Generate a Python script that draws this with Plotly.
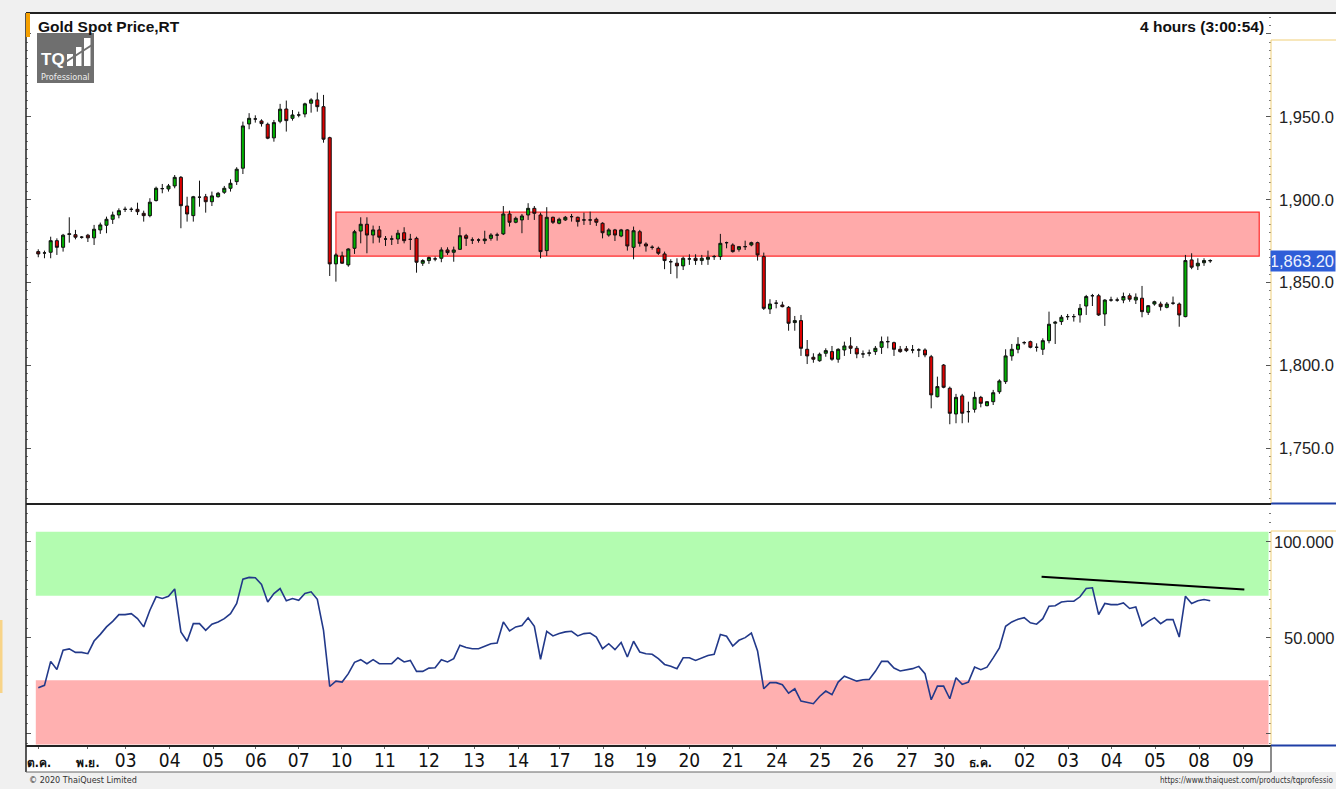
import plotly.graph_objects as go

W, H = 1336, 789

# ---------------- data ----------------
opens = [1868.6,1867.8,1868.2,1875.2,1871.2,1879.0,1878.8,1877.3,1878.5,1876.9,
1881.7,1884.5,1888.1,1890.7,1894.1,1894.1,1894.1,1891.7,1890.3,1899.4,
1906.6,1906.4,1908.2,1913.4,1896.1,1890.3,1901.4,1901.7,1898.7,1901.7,
1904.4,1906.8,1910.8,1918.9,1945.6,1948.6,1947.4,1945.4,1937.2,1947.2,
1954.6,1949.0,1951.0,1951.6,1958.1,1960.1,1956.0,1937.3,1861.2,1866.0,
1860.6,1870.6,
1881.0,1885.1,1878.6,1881.7,1876.2,1876.2,1876.2,1880.0,1876.0,1876.6,
1861.6,1863.2,1864.2,1864.6,1869.6,1868.2,1870.0,1878.2,1875.6,1875.6,
1875.2,1876.6,1878.6,1879.3,1891.3,1886.3,1887.7,1890.7,1894.7,1890.7,
1869.2,1889.3,1885.7,1887.7,1889.7,1889.3,1887.7,1887.7,1888.1,1885.7,
1878.6,1881.7,1878.0,1881.7,1871.2,1880.6,1873.2,1871.2,1870.6,1867.2,
1862.5,1861.6,1860.0,1864.2,1864.6,1863.2,1864.0,1865.6,1865.6,1874.0,
1872.6,1870.0,1871.6,1872.6,1874.0,1865.6,
1834.0,1837.5,1836.4,1835.0,1825.8,1827.0,1809.7,1804.9,1802.8,1807.3,
1808.3,1803.7,1809.3,1811.7,1810.3,1806.9,1807.3,1808.3,1810.9,1814.3,
1813.7,1809.7,1810.0,1809.3,1809.3,1809.3,1805.2,1781.1,1800.2,1786.2,
1770.7,1781.6,1772.1,1773.5,1780.7,1775.7,1778.1,1784.1,1790.2,1805.7,
1809.7,1813.7,1814.3,1810.9,1809.7,1814.9,1825.4,1826.4,1829.4,1829.4,
1830.4,1835.8,1842.0,1842.0,1831.0,1839.4,1839.4,1839.4,1842.0,1839.4,
1840.5,1832.0,1837.0,1837.0,1835.0,1837.5,1837.0,1829.4,1863.6,1860.0,
1861.9,1863.0]

highs = [1870.0,1869.2,1877.6,1876.6,1879.3,1889.3,1881.7,1878.0,1879.3,1884.7,
1886.1,1889.7,1892.7,1894.7,1895.7,1895.3,1898.1,1893.3,1900.8,1907.8,
1909.4,1909.4,1914.8,1914.2,1901.7,1902.2,1911.4,1903.4,1904.8,1904.6,
1908.2,1912.2,1919.5,1947.0,1952.1,1950.8,1948.4,1946.4,1948.0,1957.7,
1959.7,1954.0,1953.0,1958.4,1961.1,1964.5,1963.1,1937.9,1867.6,1868.6,
1870.6,1881.7,
1889.3,1889.3,1884.3,1884.1,1878.0,1878.3,1881.7,1883.3,1879.3,1877.6,
1864.0,1865.6,1865.6,1871.2,1871.2,1871.6,1883.3,1879.3,1877.2,1876.6,
1881.2,1879.7,1880.0,1896.1,1893.3,1889.7,1891.3,1897.8,1896.1,1892.1,
1895.4,1889.7,1889.1,1890.1,1891.3,1889.7,1892.1,1892.7,1889.1,1886.3,
1882.7,1882.3,1882.3,1882.1,1883.7,1881.7,1874.2,1872.4,1871.6,1868.6,
1864.0,1864.6,1865.6,1867.0,1867.0,1866.6,1869.2,1866.6,1879.3,1874.6,
1873.6,1871.6,1875.2,1874.6,1874.6,1868.0,
1839.9,1839.4,1838.4,1835.8,1829.8,1830.4,1815.3,1807.3,1807.7,1810.3,
1811.7,1810.3,1814.3,1817.0,1811.7,1809.0,1809.5,1811.7,1817.4,1817.4,
1814.3,1811.7,1811.7,1812.3,1810.3,1810.3,1806.3,1793.2,1800.8,1787.2,
1782.8,1782.8,1778.1,1784.1,1781.6,1778.5,1785.2,1791.6,1809.7,1812.9,
1817.0,1814.6,1814.9,1813.3,1816.3,1832.4,1826.8,1830.4,1831.0,1831.0,
1837.0,1842.5,1843.1,1843.1,1839.9,1841.4,1840.9,1843.9,1843.4,1843.4,
1847.9,1836.4,1839.0,1838.4,1838.2,1841.5,1837.9,1866.6,1867.6,1864.6,
1864.6,1864.0]

lows = [1865.2,1864.6,1864.6,1866.6,1868.6,1874.0,1876.0,1876.4,1874.4,1872.6,
1879.3,1879.7,1885.3,1888.7,1892.5,1892.5,1890.7,1886.7,1889.3,1898.8,
1903.8,1904.8,1906.8,1882.7,1886.7,1886.7,1895.7,1892.1,1896.1,1901.2,
1903.4,1904.8,1908.8,1915.4,1942.4,1946.4,1944.0,1936.4,1934.9,1946.0,
1941.0,1947.6,1949.6,1949.6,1952.4,1953.0,1934.3,1853.9,1850.5,1861.2,
1859.5,1867.2,
1873.6,1867.6,1873.6,1874.0,1872.0,1872.6,1873.2,1873.6,1869.6,1855.9,
1860.0,1861.2,1862.8,1862.2,1866.6,1862.5,1869.6,1872.0,1873.2,1874.0,
1873.2,1875.2,1875.2,1878.6,1883.7,1885.7,1879.7,1887.7,1887.7,1864.6,
1866.0,1885.3,1885.1,1887.1,1886.7,1883.7,1884.7,1884.7,1884.1,1876.6,
1877.6,1875.0,1877.3,1869.2,1864.0,1871.6,1868.6,1869.8,1866.6,1858.0,
1855.1,1852.5,1857.5,1860.6,1860.6,1860.6,1860.6,1863.6,1863.6,1870.6,
1868.0,1868.6,1869.6,1871.8,1863.2,1833.4,
1831.0,1834.4,1835.0,1820.9,1820.9,1805.7,1800.8,1801.6,1802.2,1805.2,
1802.8,1801.6,1805.7,1806.9,1804.3,1804.5,1805.5,1806.3,1806.9,1810.3,
1805.7,1807.6,1808.0,1807.3,1805.0,1804.9,1774.1,1780.7,1786.2,1764.5,
1765.1,1765.1,1765.5,1771.5,1774.7,1775.3,1776.1,1782.8,1788.8,1802.8,
1807.3,1812.5,1810.3,1808.3,1806.3,1813.3,1812.9,1824.4,1827.4,1826.4,
1825.8,1830.4,1835.8,1829.8,1823.8,1838.4,1838.4,1837.5,1838.4,1837.0,
1829.0,1830.4,1836.0,1833.0,1834.4,1836.5,1823.3,1829.0,1858.0,1857.5,
1860.0,1861.8]

closes = [1867.2,1867.8,1875.2,1871.2,1878.5,1879.3,1877.3,1877.3,1876.9,1882.1,
1884.7,1888.1,1890.7,1893.3,1894.1,1894.1,1892.7,1890.3,1898.4,1906.8,
1906.6,1908.2,1913.4,1896.3,1891.3,1901.7,1901.4,1898.7,1902.2,1903.8,
1906.8,1909.8,1918.3,1944.4,1949.0,1948.6,1945.8,1937.0,1946.4,1954.5,
1947.6,1951.0,1951.0,1957.7,1960.1,1956.0,1936.4,1861.2,1866.6,1861.6,
1870.2,1880.6,
1885.1,1878.6,1881.7,1877.3,1876.2,1876.2,1879.7,1875.2,1876.0,1862.2,
1863.2,1865.0,1864.2,1869.6,1868.0,1869.6,1878.2,1876.6,1875.6,1875.6,
1876.2,1878.6,1878.6,1891.3,1886.3,1888.7,1890.1,1894.7,1891.7,1868.6,
1889.3,1886.3,1888.1,1889.3,1889.7,1886.7,1887.7,1887.7,1886.3,1880.0,
1881.7,1878.6,1881.7,1872.0,1881.2,1873.6,1872.0,1871.2,1867.6,1863.2,
1862.5,1860.0,1864.6,1864.2,1863.2,1864.6,1865.2,1865.6,1873.6,1874.0,
1868.6,1871.6,1871.6,1874.0,1866.6,1834.4,
1837.0,1837.5,1835.4,1825.4,1827.0,1810.3,1805.7,1803.7,1806.7,1808.9,
1803.7,1809.7,1811.7,1810.3,1806.9,1806.9,1807.5,1810.3,1814.3,1814.3,
1809.7,1808.3,1808.9,1809.3,1809.3,1806.3,1782.2,1787.2,1786.8,1771.1,
1780.7,1771.1,1772.1,1780.7,1777.1,1778.1,1783.5,1790.6,1805.7,1809.7,
1812.7,1813.7,1810.9,1810.9,1814.9,1824.8,1826.0,1829.0,1829.4,1829.4,
1834.4,1841.5,1842.0,1830.4,1839.4,1839.4,1839.4,1841.5,1839.9,1841.1,
1832.4,1836.0,1838.4,1835.4,1837.0,1837.5,1830.4,1863.2,1859.2,1861.6,
1863.2,1863.2]

rsi = [23.8,25.1,37.6,33.4,43.4,44.1,42.3,42.3,41.6,48.2,
51.7,55.6,58.5,62.0,62.0,62.5,59.9,55.6,64.3,71.3,
70.4,71.6,75.4,53.0,48.1,57.3,57.3,53.8,57.0,58.2,
59.9,62.5,67.8,80.5,81.4,81.2,77.7,68.6,73.0,75.6,
69.2,70.4,69.5,73.0,73.9,70.0,53.8,24.5,27.3,26.8,
31.2,37.1,38.5,36.4,38.5,36.4,36.4,36.4,39.5,37.3,
38.1,32.4,32.4,34.1,34.3,38.5,37.3,39.0,46.0,44.8,
44.2,44.2,45.5,46.8,47.2,58.2,53.5,55.6,56.3,60.3,
55.9,38.7,53.3,50.9,52.1,53.0,53.3,50.9,52.1,52.4,
50.3,44.2,46.8,43.7,47.5,39.9,48.1,42.5,41.6,41.3,
39.0,36.0,35.0,33.8,39.5,39.5,38.1,39.5,40.7,41.3,
51.6,50.7,45.6,48.6,50.0,52.4,43.0,23.3,26.5,26.5,
25.4,21.0,23.3,16.9,16.0,15.5,19.3,22.1,20.2,26.8,
29.9,28.5,27.3,28.0,28.2,32.4,37.6,37.6,34.1,32.6,
33.3,33.8,35.0,31.2,17.6,24.7,24.7,18.1,29.1,25.6,
26.8,34.6,33.3,34.6,39.4,44.6,55.9,58.2,59.6,60.4,
57.7,57.0,59.9,66.4,66.6,68.6,69.0,69.0,71.3,75.6,
76.0,62.0,67.8,67.2,67.2,68.1,65.2,66.0,56.1,58.5,
60.4,57.3,59.4,59.4,50.3,71.6,67.8,69.2,69.9,69.2]

bar_index = list(range(len(closes)))

tick_pos = [0.1, 8.0, 14.1, 21.2, 28.2, 35.1, 42.0, 48.9, 55.9, 63.0, 70.3, 77.4,
            84.1, 91.2, 98.0, 105.0, 112.0, 119.1, 126.1, 133.0, 140.1, 146.1,
            151.9, 159.1, 166.1, 173.1, 180.1, 187.2, 194.3]
tick_labels = ["ต.ค.", "พ.ย.", "03", "04", "05", "06", "07", "10", "11", "12", "13", "14",
               "17", "18", "19", "20", "21", "24", "25", "26", "27", "30",
               "ธ.ค.", "02", "03", "04", "05", "08", "09"]
month_labels = {"ต.ค.", "พ.ย.", "ธ.ค."}

price_ticks = [1750, 1800, 1850, 1900, 1950]
rsi_ticks = [50, 100]

zone_x = [48.0, 196.9]
zone_y = [1865.9, 1892.4]
rsi_upper_band = [71.8, 105.2]
rsi_lower_band = [-5.8, 27.7]
trend_x = [161.8, 194.5]
trend_y = [81.7, 75.1]

title_left = "Gold Spot Price,RT"
title_right = "4 hours (3:00:54)"

# ---------------- helpers ----------------
def pxx(x):
    return x / W

def pxy(y):
    return 1 - y / H

NARROW = "Liberation Sans Narrow, Arial Narrow, DejaVu Sans Condensed, Liberation Sans, Arial, sans-serif"
SANS = "Liberation Sans, Arial, sans-serif"

fig = go.Figure()

fig.add_trace(go.Candlestick(
    x=bar_index, open=opens, high=highs, low=lows, close=closes,
    increasing=dict(fillcolor="#00b000", line=dict(color="#111111", width=1)),
    decreasing=dict(fillcolor="#dd0000", line=dict(color="#111111", width=1)),
    whiskerwidth=0, showlegend=False, hoverinfo="skip",
    xaxis="x", yaxis="y"))

fig.add_trace(go.Scatter(
    x=bar_index, y=rsi, mode="lines",
    line=dict(color="#22398a", width=1.6),
    showlegend=False, hoverinfo="skip", xaxis="x2", yaxis="y2"))

fig.add_trace(go.Scatter(
    x=trend_x, y=trend_y, mode="lines",
    line=dict(color="#000000", width=2),
    showlegend=False, hoverinfo="skip", xaxis="x2", yaxis="y2"))

xdom = [pxx(26), pxx(1271)]
xrange_ = [-1.98, 198.8]

ticktext = []
for t in tick_labels:
    if t in month_labels:
        ticktext.append("<span style='font-size:12px'><b>%s</b></span>" % t)
    else:
        ticktext.append(t)

fig.update_layout(
    width=W, height=H, autosize=False,
    margin=dict(l=0, r=0, t=0, b=0),
    paper_bgcolor="#f0f0f0", plot_bgcolor="white",
    hovermode=False, showlegend=False,
    font=dict(family=SANS, color="#111111"),
    xaxis=dict(domain=xdom, range=xrange_, anchor="y", showticklabels=False,
               ticks="", showgrid=False, zeroline=False, showline=False,
               rangeslider=dict(visible=False)),
    yaxis=dict(domain=[pxy(503), pxy(14)], range=[1717.0, 2011.9], anchor="x",
               side="right", showticklabels=False, showgrid=False, zeroline=False,
               ticks="inside", ticklen=5, tickcolor="#555555", tickmode="linear",
               tick0=1750, dtick=50, mirror="ticks",
               minor=dict(ticks="inside", ticklen=2, tickcolor="#777777", dtick=5, tick0=1750)),
    xaxis2=dict(domain=xdom, range=xrange_, anchor="y2", matches="x",
                tickmode="array", tickvals=tick_pos, ticktext=ticktext,
                ticks="outside", ticklen=3, tickcolor="#666666",
                ticklabelstandoff=-5,
                tickfont=dict(family=NARROW, size=19, color="#111111"),
                showgrid=False, zeroline=False, showline=False),
    yaxis2=dict(domain=[pxy(745), pxy(507)], range=[-6.03, 118.15], anchor="x2",
                side="right", showticklabels=False, showgrid=False, zeroline=False,
                ticks="inside", ticklen=5, tickcolor="#555555", tickmode="linear",
                tick0=0, dtick=50, mirror="ticks",
                minor=dict(ticks="inside", ticklen=2, tickcolor="#777777", dtick=5, tick0=0)),
)

shapes = []

def prect(x0, y0, x1, y1, fill, layer="below", line=None):
    d = dict(type="rect", xref="paper", yref="paper",
             x0=pxx(x0), x1=pxx(x1), y0=pxy(y1), y1=pxy(y0),
             fillcolor=fill, layer=layer, line=dict(width=0))
    if line:
        d["line"] = line
    shapes.append(d)

def pline(x0, y0, x1, y1, color, width=1, layer="above"):
    shapes.append(dict(type="line", xref="paper", yref="paper",
                       x0=pxx(x0), x1=pxx(x1), y0=pxy(y0), y1=pxy(y1),
                       line=dict(color=color, width=width), layer=layer))

# white chart canvas
prect(26, 13, W, 772, "white")
# far-left sliver
prect(0, 620, 2.5, 693, "#f8d488", layer="above")

# data-referenced zones
shapes.append(dict(type="rect", xref="x", yref="y", x0=zone_x[0], x1=zone_x[1],
                   y0=zone_y[0], y1=zone_y[1], fillcolor="#ffaaaa",
                   line=dict(color="#ff2a2a", width=1.2), layer="below"))
shapes.append(dict(type="rect", xref="x2", yref="y2", x0=-0.4, x1=198.4,
                   y0=rsi_upper_band[0], y1=rsi_upper_band[1], fillcolor="#b3fcb0",
                   line=dict(width=0), layer="below"))
shapes.append(dict(type="rect", xref="x2", yref="y2", x0=-0.4, x1=198.4,
                   y0=rsi_lower_band[0], y1=rsi_lower_band[1], fillcolor="#ffb0b0",
                   line=dict(width=0), layer="below"))

# frame lines
pline(26, 13, W, 13, "#222222", 2)
pline(26, 13, 26, 772, "#222222", 1.5)
pline(26, 504, 1271, 504, "#222222", 2)
pline(1271, 503.5, W, 503.5, "#1f3fa6", 2)
pline(1271, 40, 1271, 503, "#f0cf78", 1)
pline(1271, 40, W, 40, "#f0cf78", 1)
pline(1271, 531, 1271, 745, "#f0cf78", 1)
pline(1271, 531, W, 531, "#f0cf78", 1)
pline(26, 746, 1271, 746, "#222222", 2)
pline(1271, 745.5, W, 745.5, "#1f3fa6", 2)
pline(26, 772, 1271, 772, "#666666", 1)
pline(1271, 746, 1271, 772, "#666666", 1.5)

# orange marker
prect(26, 13, 30, 37, "#f5a000", layer="above")

# logo
prect(37, 33, 94, 83, "#6f6f6f", layer="above")
prect(67, 54, 73, 66, "white", layer="above")
prect(76, 47, 81.5, 66, "white", layer="above")
prect(84, 38, 90.5, 66, "white", layer="above")
pline(64, 63, 92, 45, "#6f6f6f", 2)

fig.update_layout(shapes=shapes)

ann = []
ann.append(dict(text="<b>%s</b>" % title_left, xref="paper", yref="paper",
                x=pxx(36), y=pxy(26), xanchor="left", yanchor="middle", showarrow=False,
                font=dict(family=SANS, size=15.5, color="#111111")))
ann.append(dict(text="<b>%s</b>" % title_right, xref="paper", yref="paper",
                x=pxx(1266), y=pxy(26), xanchor="right", yanchor="middle", showarrow=False,
                font=dict(family=SANS, size=15.5, color="#111111")))
ann.append(dict(text="<b>TQ</b>", xref="paper", yref="paper",
                x=pxx(39), y=pxy(59), xanchor="left", yanchor="middle", showarrow=False,
                font=dict(family=SANS, size=17, color="white")))
ann.append(dict(text="Professional", xref="paper", yref="paper",
                x=pxx(65.5), y=pxy(76.5), xanchor="center", yanchor="middle", showarrow=False,
                font=dict(family=NARROW, size=9, color="#eeeeee")))

for v in price_ticks:
    ann.append(dict(text="{:,.1f}".format(v), xref="paper", yref="y", x=pxx(1335.5), y=v,
                    xanchor="right", yanchor="middle", showarrow=False,
                    font=dict(family=SANS, size=16.5, color="#222222")))
for v in rsi_ticks:
    ann.append(dict(text="{:.3f}".format(v), xref="paper", yref="y2", x=pxx(1335.5), y=v,
                    xanchor="right", yanchor="middle", showarrow=False,
                    font=dict(family=SANS, size=16.5, color="#222222")))

last_close = closes[-1]
ann.append(dict(text="{:,.2f}".format(last_close), xref="paper", yref="y", x=pxx(1336), y=last_close,
                xanchor="right", yanchor="middle", showarrow=False, bgcolor="#2f5ed8",
                borderpad=1, width=62, align="right",
                font=dict(family=SANS, size=16.5, color="#eef2ff")))

ann.append(dict(text="© 2020 ThaiQuest Limited", xref="paper", yref="paper",
                x=pxx(27), y=pxy(780), xanchor="left", yanchor="middle", showarrow=False,
                font=dict(family=NARROW, size=9, color="#333333")))
ann.append(dict(text="https://www.thaiquest.com/products/tqprofessio", xref="paper", yref="paper",
                x=pxx(1335), y=pxy(780), xanchor="right", yanchor="middle", showarrow=False,
                font=dict(family=NARROW, size=8, color="#333333")))

fig.update_layout(annotations=ann)

fig.write_html("out.html")
